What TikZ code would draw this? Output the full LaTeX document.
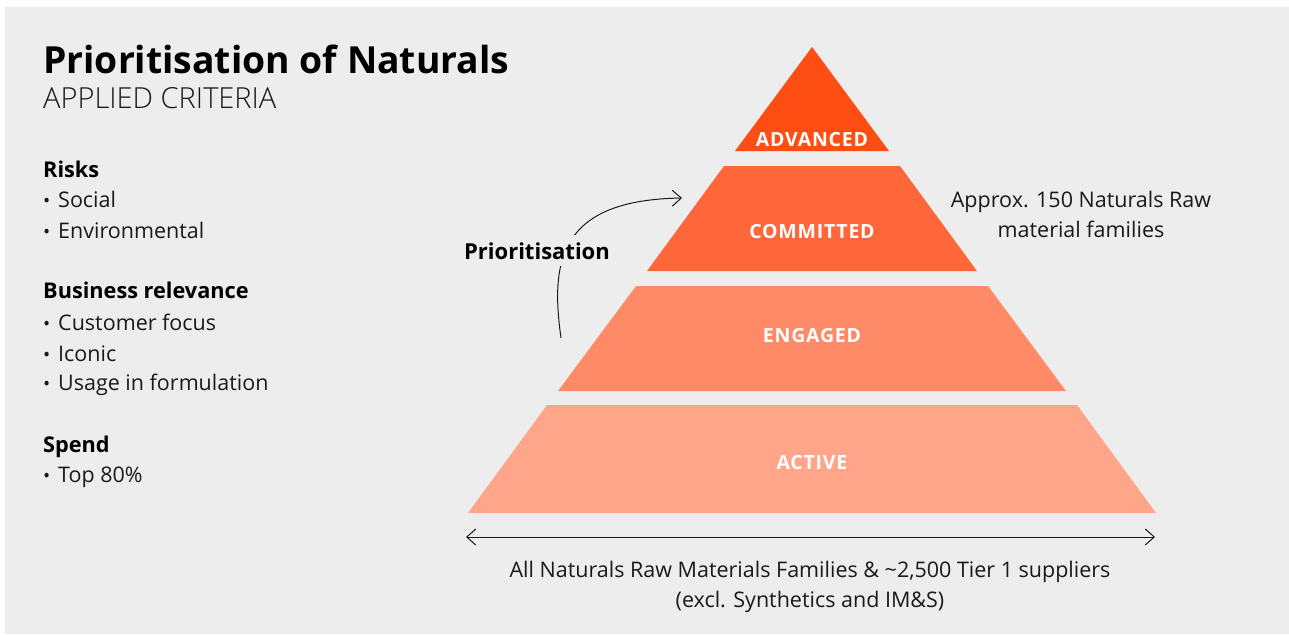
\documentclass[tikz,border=0pt]{standalone}
\usepackage{fontspec}
\setmainfont{Open Sans}
\IfFontExistsTF{Open Sans Light}{\newfontfamily\lightfont{Open Sans Light}}{\newfontfamily\lightfont{Open Sans}}
\newfontfamily\labfont[LetterSpace=4]{Open Sans Bold}
\usetikzlibrary{arrows.meta}
\definecolor{bg}{HTML}{EDEDED}
\definecolor{cadv}{HTML}{FF4E14}
\definecolor{ccom}{HTML}{FF673A}
\definecolor{ceng}{HTML}{FF8A68}
\definecolor{cact}{HTML}{FFA68A}
\definecolor{txt}{HTML}{1A1A1A}
\newcommand\bul{\makebox[15pt][l]{\raisebox{-0.8pt}{\fontsize{19}{19}\selectfont\textbullet}}}
\tikzset{
  body/.style={anchor=base west, inner sep=0pt, text=txt, font=\fontsize{21.5}{25}\selectfont},
  head/.style={anchor=base west, inner sep=0pt, text=black, font=\fontsize{21.7}{25}\selectfont\bfseries},
  lab/.style={anchor=base, inner sep=0pt, text=white, font=\fontsize{19.5}{22}\selectfont\labfont},
  ctext/.style={anchor=base, inner sep=0pt, text=txt, font=\fontsize{21.5}{25}\selectfont},
  barb/.style={line width=1pt, draw=txt},
  tip/.tip={Straight Barb[length=9pt,width=16pt,line width=1pt]}
}
\begin{document}
\begin{tikzpicture}[x=1pt,y=-1pt]
\useasboundingbox (0,0) rectangle (1289,634);
\fill[white] (0,0) rectangle (1289,634);
\fill[bg] (5,7) rectangle (1289,634);
% title
\node[anchor=base west, inner sep=0pt, text=black, font=\fontsize{37.3}{44}\selectfont\bfseries] (title) at (43,74) {Prioritisation of Naturals};
\node[anchor=base west, inner sep=0pt, text=txt, font=\fontsize{29}{33}\selectfont\lightfont] (sub) at (43,108) {APPLIED CRITERIA};
% left list
\node[head] (h1) at (43,177) {Risks};
\node[body] (i1) at (43,207) {\bul Social};
\node[body] (i2) at (43,238) {\bul Environmental};
\node[head] (h2) at (43,298) {Business relevance};
\node[body] (i3) at (43,330) {\bul Customer focus};
\node[body] (i4) at (43,361) {\bul Iconic};
\node[body] (i5) at (43,390) {\bul Usage in formulation};
\node[head] (h3) at (43,452) {Spend};
\node[body] (i6) at (43,482) {\bul Top 80\%};
% pyramid
\fill[cadv] (812,47) -- (889,151) -- (735,151) -- cycle;
\fill[ccom] (724,166) -- (900,166) -- (977,271) -- (647,271) -- cycle;
\fill[ceng] (636,286) -- (988,286) -- (1066,391) -- (558,391) -- cycle;
\fill[cact] (547,405) -- (1077,405) -- (1156,513) -- (468,513) -- cycle;
\node[lab] (adv) at (812,146) {ADVANCED};
\node[lab] (com) at (812,238) {COMMITTED};
\node[lab] (eng) at (812,342) {ENGAGED};
\node[lab] (act) at (812,469) {ACTIVE};
% right text
\node[ctext] (approx) at (1081,207) {Approx. 150 Naturals Raw};
\node[ctext] (fam) at (1081,237) {material families};
% bottom arrow and text
\coordinate (bl) at (466,537);
\coordinate (br) at (1155,537);
\draw[barb, {tip}-{tip}] (bl) -- (br);
\node[ctext] (all) at (810,577) {All Naturals Raw Materials Families \& \textasciitilde2,500 Tier 1 suppliers};
\node[ctext] (excl) at (810,607) {(excl. Synthetics and IM\&S)};
% prioritisation curve
\coordinate (cs) at (561,338);
\coordinate (ce) at (682,198);
\draw[barb, -{tip}] (cs) .. controls (550,260) and (560,200) .. (ce);
\node[anchor=base, inner xsep=2pt, inner ysep=7pt, fill=bg, text=black, font=\fontsize{22}{25}\selectfont\bfseries] (prio) at (537,259) {Prioritisation};
\end{tikzpicture}
\end{document}
